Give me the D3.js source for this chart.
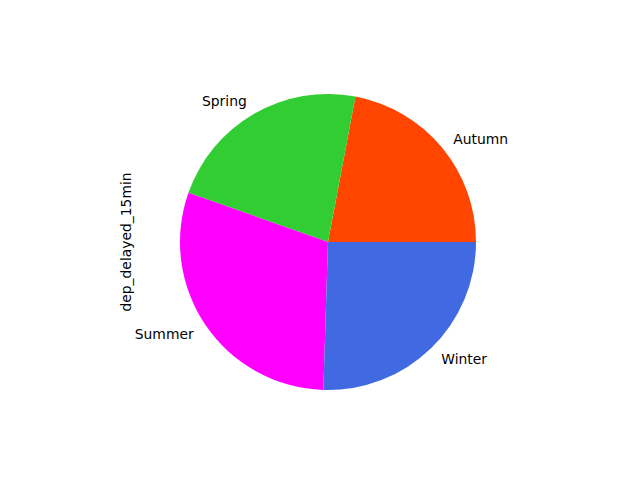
<!DOCTYPE html>
<html><head><meta charset="utf-8">
<script src="https://cdn.jsdelivr.net/npm/d3@7"></script>
<style>body{margin:0;background:#fff}svg{display:block}text{font-family:"DejaVu Sans",sans-serif;font-size:13.89px;fill:#000}</style>
</head><body>
<script>
const categories = ["Autumn", "Spring", "Summer", "Winter"];
const values = [22.03, 22.57, 29.90, 25.50];
const colors = ["#ff4500", "#32cd32", "#ff00ff", "#4169e1"];
const yLabel = "dep_delayed_15min";

const W = 640, H = 480, cx = 328, cy = 242, r = 148;
const svg = d3.select("body").append("svg").attr("width", W).attr("height", H);
const g = svg.append("g").attr("transform", `translate(${cx},${cy})`);

// matplotlib: start at 3 o'clock, counterclockwise. d3: start at 12, clockwise.
const pie = d3.pie().sort(null).value(d => d)
  .startAngle(Math.PI / 2).endAngle(Math.PI / 2 - 2 * Math.PI);
const arcs = pie(values);
const arc = d3.arc().innerRadius(0).outerRadius(r);

g.selectAll("path").data(arcs).enter().append("path")
  .attr("d", arc).attr("fill", (d, i) => colors[i]);

g.selectAll("text.lab").data(arcs).enter().append("text")
  .attr("class", "lab")
  .each(function (d, i) {
    const a = (d.startAngle + d.endAngle) / 2; // d3 angle: 0 at top, clockwise
    const x = Math.sin(a) * r * 1.1, y = -Math.cos(a) * r * 1.1;
    d3.select(this).attr("x", x).attr("y", y + 0.5)
      .attr("text-anchor", x > 0 ? "start" : "end")
      .attr("dominant-baseline", "central")
      .text(categories[i]);
  });

svg.append("text")
  .attr("transform", `translate(131,${cy}) rotate(-90)`)
  .attr("text-anchor", "middle")
  .text(yLabel);
</script>
</body></html>
